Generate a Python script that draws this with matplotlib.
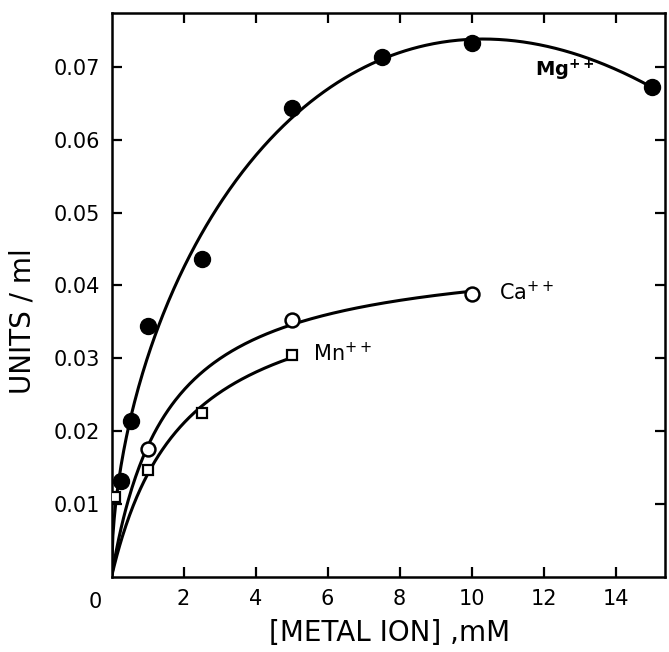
import numpy as np
import matplotlib.pyplot as plt

# Mg++ (filled circles), Ca++ (open circles), Mn++ (open squares)
mg_x = np.array([0.25, 0.55, 1.0, 2.5, 5.0, 7.5, 10.0, 15.0])
mg_y = np.array([0.0131, 0.0214, 0.0345, 0.0436, 0.0644, 0.0713, 0.0733, 0.0673])
ca_x = np.array([1.0, 5.0, 10.0])
ca_y = np.array([0.0176, 0.0352, 0.0388])
mn_x = np.array([0.1, 1.0, 2.5, 5.0])
mn_y = np.array([0.0110, 0.0147, 0.0225, 0.0305])

xticks = [2, 4, 6, 8, 10, 12, 14]
yticks = [0.01, 0.02, 0.03, 0.04, 0.05, 0.06, 0.07]


def fit_poly(x, y, deg):
    # smooth curve through the origin: polynomial in sqrt(x)
    u = np.sqrt(x)
    A = np.column_stack([u**k for k in range(1, deg + 1)])
    c = np.linalg.lstsq(A, y, rcond=None)[0]
    return lambda s: sum(c[k - 1] * np.sqrt(s)**k for k in range(1, deg + 1))


def fit_mm(x, y):
    # v = V*S/(K+S), grid over K, V by least squares
    best = None
    for K in np.linspace(0.05, 10, 1000):
        g = x / (K + x)
        V = np.dot(g, y) / np.dot(g, g)
        err = np.sum((V * g - y) ** 2)
        if best is None or err < best[0]:
            best = (err, V, K)
    _, V, K = best
    return lambda s: V * s / (K + s)


f_mg = fit_poly(mg_x, mg_y, 4)
f_ca = fit_mm(ca_x, ca_y)
f_mn = fit_mm(mn_x[1:], mn_y[1:])

fig = plt.figure(figsize=(6.69, 6.52), dpi=100)
ax = fig.add_axes([0.1667, 0.1153, 0.8273, 0.8647])

lw = 2.2
s = np.linspace(0, 15, 400)
ax.plot(s, f_mg(s), color='black', lw=lw, zorder=2)
s = np.linspace(0, 10, 300)
ax.plot(s, f_ca(s), color='black', lw=lw, zorder=2)
s = np.linspace(0, 5, 200)
ax.plot(s, f_mn(s), color='black', lw=lw, zorder=2)

ax.plot(mg_x, mg_y, 'o', color='black', ms=11.5, zorder=4)
ax.plot(ca_x, ca_y, 'o', mfc='white', mec='black', mew=1.8, ms=10, zorder=4)
ax.plot(mn_x, mn_y, 's', mfc='white', mec='black', mew=1.6, ms=7, zorder=3)

ax.text(12.6, 0.0695, r'$\mathbf{Mg^{++}}$', fontsize=14, ha='center', va='center')
ax.text(10.75, 0.0390, 'Ca$^{++}$', fontsize=15, ha='left', va='center')
ax.text(5.6, 0.0306, 'Mn$^{++}$', fontsize=15, ha='left', va='center')

ax.set_xlim(0, 15.37)
ax.set_ylim(0, 0.0774)
ax.set_xticks(xticks)
ax.set_xticklabels([str(t) for t in xticks])
ax.set_yticks(yticks)
ax.set_yticklabels(['%.2f' % t for t in yticks])
ax.tick_params(direction='in', length=7, width=1.6, labelsize=15, pad=9,
               top=True, right=True)
ax.tick_params('y', pad=8)
for sp in ax.spines.values():
    sp.set_linewidth(1.8)

ax.text(-0.45, -0.0035, '0', fontsize=15, ha='center', va='center')
ax.set_xlabel('[METAL ION] ,mM', fontsize=20, va='center')
ax.xaxis.set_label_coords(0.503, -0.0996)
ax.set_ylabel('UNITS / ml', fontsize=20, va='center')
ax.yaxis.set_label_coords(-0.161, 0.454)

plt.savefig('out.png', dpi=100)
